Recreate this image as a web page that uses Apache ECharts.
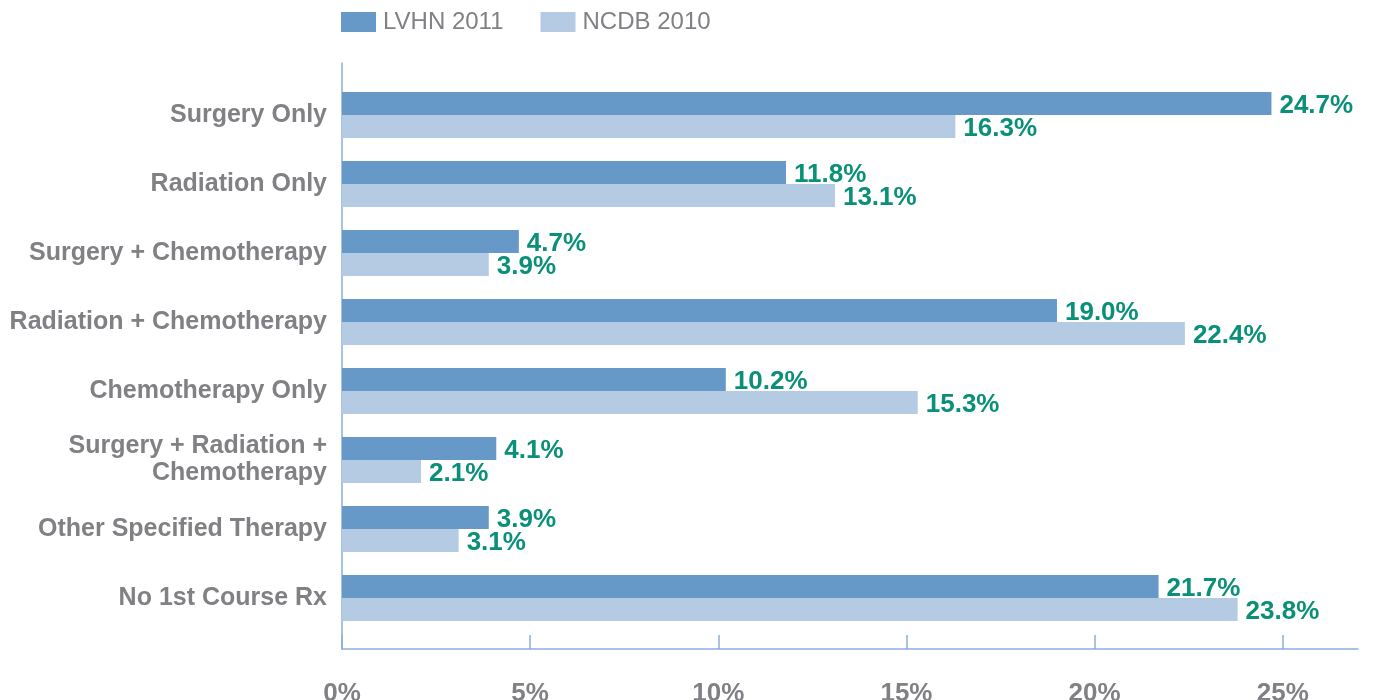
<!DOCTYPE html>
<html><head><meta charset="utf-8">
<script src="https://cdn.jsdelivr.net/npm/echarts@6/dist/echarts.min.js"></script>
<style>html,body{margin:0;padding:0;background:#fff}#c{width:1374px;height:700px}</style>
</head><body><div id="c"></div>
<script>
const categories = ['Surgery Only','Radiation Only','Surgery + Chemotherapy','Radiation + Chemotherapy','Chemotherapy Only','Surgery + Radiation +\nChemotherapy','Other Specified Therapy','No 1st Course Rx'];
const lvhn2011 = [24.7, 11.8, 4.7, 19.0, 10.2, 4.1, 3.9, 21.7];
const ncdb2010 = [16.3, 13.1, 3.9, 22.4, 15.3, 2.1, 3.1, 23.8];
const xTicks = [0, 5, 10, 15, 20, 25];
const seriesNames = ['LVHN 2011', 'NCDB 2010'];

const FONT = '"Liberation Sans", Arial, sans-serif';
const GRAY = '#818185';
const GREEN = '#0a9078';
const AXIS = '#8aaedb';

const chart = echarts.init(document.getElementById('c'), null, {renderer: 'canvas'});
const label = {
  show: true, position: 'right', distance: 8, offset: [0, 2],
  color: GREEN, fontFamily: FONT, fontWeight: 'bold', fontSize: 26,
  formatter: p => p.value.toFixed(1) + '%'
};
chart.setOption({
  animation: false,
  textStyle: {fontFamily: FONT},
  legend: {
    left: 341, top: 10, padding: 0, itemWidth: 35, itemHeight: 20, itemGap: 37,
    icon: 'rect',
    textStyle: {fontSize: 24, color: GRAY, fontFamily: FONT, padding: [0, 0, 0, 2]},
    data: seriesNames
  },
  grid: [
    {left: 342, right: 16, top: 63, bottom: 51, outerBoundsMode: 'none', containLabel: false},
    {left: 342, right: 16, top: 80.5, bottom: 67.5, outerBoundsMode: 'none', containLabel: false}
  ],
  xAxis: [
    {gridIndex: 0, type: 'value', min: 0, max: 27, interval: 5,
     axisLine: {show: true, lineStyle: {color: AXIS, width: 1.5}},
     axisTick: {show: true, inside: true, length: 14, customValues: xTicks, lineStyle: {color: AXIS, width: 1.5}},
     axisLabel: {customValues: xTicks, margin: 32, fontSize: 26, fontWeight: 'bold', color: GRAY, fontFamily: FONT,
                 formatter: v => v + '%'},
     splitLine: {show: false}},
    {gridIndex: 1, type: 'value', min: 0, max: 27, show: false}
  ],
  yAxis: [
    {gridIndex: 0, type: 'value', min: 0, max: 1,
     axisLine: {show: true, lineStyle: {color: AXIS, width: 1.5}},
     axisTick: {show: false}, axisLabel: {show: false}, splitLine: {show: false}},
    {gridIndex: 1, type: 'category', inverse: true, data: categories,
     axisLine: {show: false}, axisTick: {show: false},
     axisLabel: {margin: 15, fontSize: 25, fontWeight: 'bold', color: GRAY, fontFamily: FONT, lineHeight: 27, align: 'right'}}
  ],
  series: [
    {name: seriesNames[0], type: 'bar', xAxisIndex: 1, yAxisIndex: 1, data: lvhn2011,
     barWidth: 23, barGap: '0%', itemStyle: {color: '#6699c8'}, label: label},
    {name: seriesNames[1], type: 'bar', xAxisIndex: 1, yAxisIndex: 1, data: ncdb2010,
     barWidth: 23, barGap: '0%', itemStyle: {color: '#b4cbe3'}, label: label}
  ]
});
</script></body></html>
